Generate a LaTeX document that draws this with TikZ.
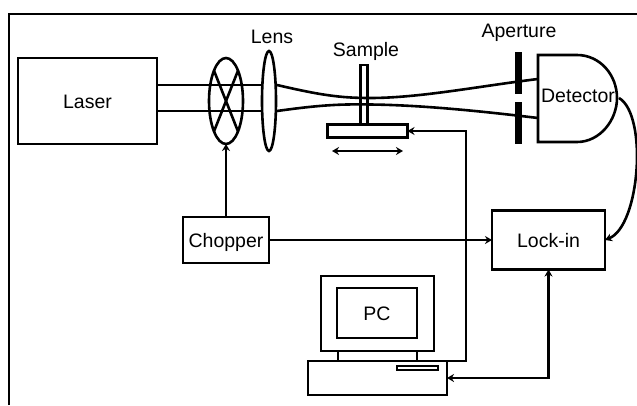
\documentclass[tikz,border=0pt]{standalone}
\usepackage{fontspec}
\setmainfont{Liberation Sans}
\usetikzlibrary{arrows.meta,shapes.geometric}
\tikzset{
    every node/.style={font=\fontsize{19.5}{22}\selectfont,inner sep=0pt,outer sep=0pt},
    every path/.style={line width=2.6pt},
    unit/.style={draw,rectangle,minimum width=#1},
    unit/.default=80pt,
    lbl/.style={text height=18pt,text depth=4pt},
    plate/.style={fill=black,draw=none,rectangle,minimum width=7pt,minimum height=42pt},
    sig/.style={-{Stealth[length=7pt,width=8pt]}},
    twosig/.style={{Stealth[length=7pt,width=8pt]}-{Stealth[length=7pt,width=8pt]}}
}
\begin{document}
\begin{tikzpicture}[x=1pt,y=-1pt]
    \useasboundingbox (0,0) rectangle (637,405);
    \coordinate (frameA) at (9,405);
    \coordinate (frameB) at (9,14);
    \coordinate (frameC) at (637,14);
    \draw[line width=2.8pt] (frameA) -- (frameB) -- (frameC);

    \node[unit=139pt,minimum height=86pt,lbl] (laser) at (87.5,101) {Laser};
    \node[draw,ellipse,minimum width=34pt,minimum height=86pt] (wheel) at (226,101) {};
    \node[draw,ellipse,minimum width=14pt,minimum height=100pt] (lens) at (269,101) {};
    \node[lbl] (lenstext) at (272,36) {Lens};
    \node[lbl] (sampletext) at (366,49) {Sample};
    \node[lbl] (aperturetext) at (519,30) {Aperture};
    \node[unit=7pt,minimum height=60pt] (sample) at (364,95) {};
    \node[unit=80pt,minimum height=13pt] (stage) at (367.5,131) {};
    \node[plate] (slitA) at (518.5,73) {};
    \node[plate] (slitB) at (518.5,123) {};
    \node[unit=86pt,minimum height=46pt,lbl] (chopper) at (226,240) {Chopper};
    \node[unit=113pt,minimum height=59pt,lbl] (lockin) at (548.5,240) {Lock-in};
    \node[unit=113pt,minimum height=75pt] (monitor) at (377.5,313.5) {};
    \node[unit=80pt,minimum height=50pt,lbl] (screen) at (377,313) {PC};
    \node[unit=139pt,minimum height=34pt] (base) at (377.5,378) {};
    \node[unit=41pt,minimum height=4pt] (slot) at (417.5,368) {};

    \draw (338,351) -- (338,361);
    \draw (417,351) -- (417,361);

    \draw (wheel.north west) -- (wheel.south east);
    \draw (wheel.north east) -- (wheel.south west);

    \draw (538,55) -- (577,55) .. controls (600,55) and (617,75) .. (617,98)
        .. controls (617,120) and (600,142) .. (577,142) -- (538,142) -- cycle;
    \node[lbl] (detector) at (578,95) {Detector};

    \coordinate (beamA) at (157,85);
    \coordinate (beamB) at (262,85);
    \coordinate (beamC) at (157,111);
    \coordinate (beamD) at (262,111);
    \coordinate (beamE) at (277,85);
    \coordinate (beamF) at (277,111);
    \coordinate (beamG) at (538,79);
    \coordinate (beamH) at (538,118);
    \draw (beamA) -- (beamB);
    \draw (beamC) -- (beamD);
    \draw (beamE) .. controls (320,95) and (340,98) .. (370,98)
        .. controls (420,98) and (480,86) .. (beamG);
    \draw (beamF) .. controls (320,105) and (340,104) .. (370,104.5)
        .. controls (420,105) and (480,111) .. (beamH);

    \coordinate (moveA) at (332,151);
    \coordinate (moveB) at (403,151);
    \coordinate (riser) at (466,361);
    \coordinate (detout) at (619,98);

    \draw[twosig] (moveA) -- (moveB);
    \draw[sig] (chopper.north) -- (wheel.south);
    \draw[sig] (chopper.east) -- (lockin.west);
    \draw[sig] (base.north east) -- (riser) |- (stage.east);
    \draw[twosig] (lockin.south) |- (base.east);
    \draw[sig] (detout) .. controls (648,115) and (640,226) .. (lockin.east);
\end{tikzpicture}
\end{document}
